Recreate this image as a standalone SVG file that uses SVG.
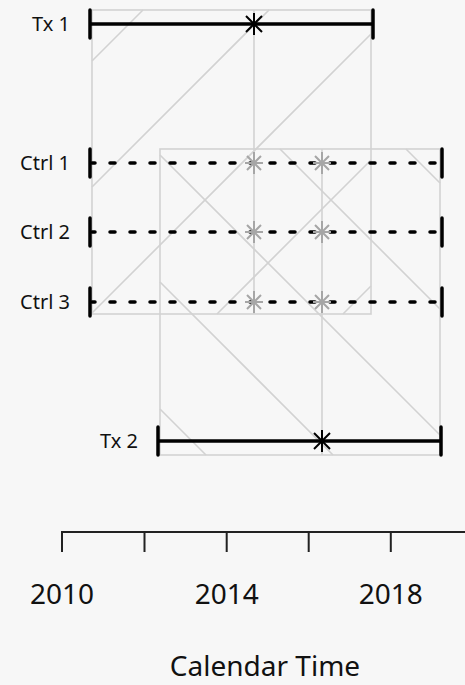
<svg xmlns="http://www.w3.org/2000/svg" width="465" height="685" viewBox="0 0 465 685">
<defs>
<style>
.bg{fill:#f7f7f7}
.box{fill:none;stroke:#d2d2d2;stroke-width:1.6}
.grid{stroke:#d2d2d2;stroke-width:1.6;fill:none}
.solid{stroke:#000;stroke-width:3.5;fill:none}
.dash{stroke:#000;stroke-width:3.5;fill:none;stroke-dasharray:5 15;stroke-dashoffset:2;stroke-linecap:round}
.bar{stroke:#000;stroke-width:3.5;stroke-linecap:round}
.gstar{stroke:#a6a6a6;stroke-width:2;fill:none}
.bstar{stroke:#000;stroke-width:2;fill:none}
.lbl{font-family:"Noto Sans","Open Sans",sans-serif;font-size:20px;fill:#111;text-anchor:end}
.tick{font-family:"Noto Sans","Open Sans",sans-serif;font-size:28px;fill:#111;text-anchor:middle}
.axis{stroke:#222;stroke-width:2;fill:none}
</style>
<g id="gs"><path class="gstar" d="M-9,0H9M0,-11V11M-7,-7L7,7M-7,7L7,-7"/></g>
<g id="bs"><path class="bstar" d="M0,-11V11M-8,-8L8,8M-8,8L8,-8"/></g>
</defs>
<rect class="bg" x="0" y="0" width="465" height="685"/>
<g id="connectors">
<rect class="box" x="92" y="10" width="279" height="304"/>
<rect class="box" x="160" y="149" width="280" height="306"/>
<path class="grid" d="M92,61L143,10M92,187L269,10M92,313L371,34M217,314L371,160M343,314L371,286"/>
<path class="grid" d="M406,149L440,183M280,149L440,309M160,155L440,435M160,282L333,455M160,409L206,455"/>
<path class="grid" d="M254,10V314M322,149V455"/>
</g>
<g id="tx1">
<text class="lbl" x="70" y="31">Tx 1</text>
<line class="solid" x1="90" y1="24" x2="373" y2="24"/>
<line class="bar" x1="90" y1="10" x2="90" y2="38"/>
<line class="bar" x1="373" y1="10" x2="373" y2="38"/>
<use href="#bs" x="254" y="24"/>
</g>
<g id="ctrl1">
<text class="lbl" x="70" y="170">Ctrl 1</text>
<line class="dash" x1="92" y1="163" x2="440" y2="163"/>
<line class="bar" x1="90" y1="149" x2="90" y2="177"/>
<line class="bar" x1="442" y1="149" x2="442" y2="177"/>
<use href="#gs" x="254" y="163"/>
<use href="#gs" x="322" y="163"/>
</g>
<g id="ctrl2">
<text class="lbl" x="70" y="239">Ctrl 2</text>
<line class="dash" x1="92" y1="232" x2="440" y2="232"/>
<line class="bar" x1="90" y1="218" x2="90" y2="246"/>
<line class="bar" x1="442" y1="218" x2="442" y2="246"/>
<use href="#gs" x="254" y="232"/>
<use href="#gs" x="322" y="232"/>
</g>
<g id="ctrl3">
<text class="lbl" x="70" y="309">Ctrl 3</text>
<line class="dash" x1="92" y1="302" x2="440" y2="302"/>
<line class="bar" x1="90" y1="288" x2="90" y2="316"/>
<line class="bar" x1="442" y1="288" x2="442" y2="316"/>
<use href="#gs" x="254" y="302"/>
<use href="#gs" x="322" y="302"/>
</g>
<g id="tx2">
<text class="lbl" x="138" y="448">Tx 2</text>
<line class="solid" x1="158" y1="441" x2="441" y2="441"/>
<line class="bar" x1="158" y1="427" x2="158" y2="455"/>
<line class="bar" x1="441" y1="427" x2="441" y2="455"/>
<use href="#bs" x="322" y="441"/>
</g>
<g id="axis">
<path class="axis" d="M62,552V532H465M144.5,532V552M226.7,532V552M308.7,532V552M390.8,532V552"/>
<text class="tick" x="62" y="604">2010</text>
<text class="tick" x="226.7" y="604">2014</text>
<text class="tick" x="390.8" y="604">2018</text>
<text class="tick" x="265" y="676">Calendar Time</text>
</g>
</svg>
